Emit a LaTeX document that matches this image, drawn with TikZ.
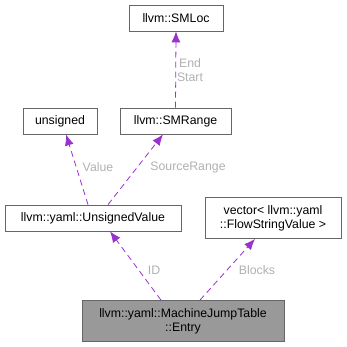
\documentclass[tikz,border=0pt]{standalone}
\usepackage{fontspec}
\setmainfont{Liberation Sans}
\usetikzlibrary{arrows.meta}

\definecolor{edgepurple}{HTML}{9A32CD}
\definecolor{labelgray}{HTML}{B0B0B0}
\definecolor{boxgray}{HTML}{666666}
\tikzset{
  cls/.style={draw=boxgray, line width=0.8pt, fill=white, inner sep=0pt, align=center,
    font=\fontsize{12.3}{14}\selectfont},
  uses/.style={edgepurple, dashed, line width=0.8pt, dash pattern=on 6pt off 4pt,
    -{Latex[length=11pt,width=9pt]}},
  lbl/.style={labelgray, font=\fontsize{12.3}{14}\selectfont}
}

\begin{document}
\begin{tikzpicture}[x=1pt, y=-1pt]
    \useasboundingbox (0,0) rectangle (347,347);

    \node[cls, minimum width=94pt, minimum height=26pt] (smloc) at (176,18) {llvm::SMLoc};
    \node[cls, minimum width=74pt, minimum height=26pt] (unsigned) at (60,121) {unsigned};
    \node[cls, minimum width=111pt, minimum height=26pt] (smrange) at (175.5,121) {llvm::SMRange};
    \node[cls, minimum width=176pt, minimum height=26pt] (uval) at (93,218) {llvm::yaml::UnsignedValue};
    \node[cls, minimum width=136pt, minimum height=41pt] (vec) at (273,218)
        {vector< llvm::yaml\\::FlowStringValue >};
    \node[cls, fill=black!40, minimum width=202pt, minimum height=41pt] (entry) at (183,321)
        {llvm::yaml::MachineJumpTable\\::Entry};

    \draw[uses] (smrange.north) -- (smloc.south);
    \draw[uses] (uval.north -| 88,0) -- (unsigned.south -| 66,0);
    \draw[uses] (uval.north -| 108,0) -- (smrange.south -| 163,0);
    \draw[uses] (entry.north -| 161,0) -- (uval.south -| 110,0);
    \draw[uses] (entry.north -| 200,0) -- (vec.south -| 255,0);

    \node[lbl] (lend) at (190,63) {End};
    \node[lbl] (lstart) at (190,77) {Start};
    \node[lbl] (lvalue) at (98,167) {Value};
    \node[lbl] (lrange) at (188,167) {SourceRange};
    \node[lbl] (lid) at (154,270) {ID};
    \node[lbl] (lblocks) at (257,270) {Blocks};
\end{tikzpicture}
\end{document}
